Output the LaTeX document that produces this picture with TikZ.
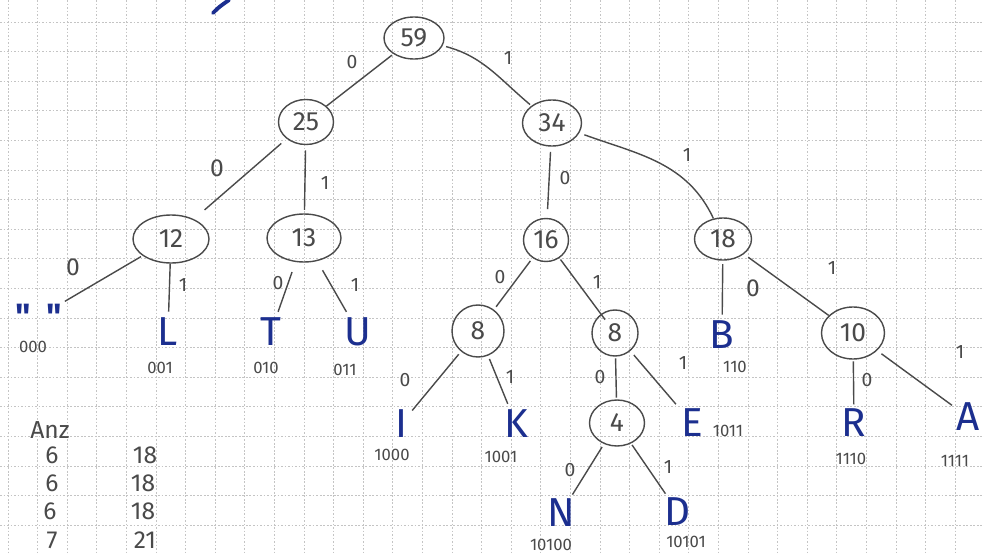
\documentclass[tikz,border=0pt]{standalone}
\usepackage{fontspec}
\setmainfont{Fira Sans}
\newfontfamily\qfont{Fira Sans}[Ligatures=TeXOff]
\usetikzlibrary{shapes.geometric}
\definecolor{pencil}{HTML}{4A4A4A}
\definecolor{ink}{HTML}{1C2F8F}
\definecolor{gridc}{HTML}{C4C4C4}
\tikzset{
  gridl/.style={gridc, line width=0.5pt, dash pattern=on 1pt off 1pt},
  nd/.style={ellipse, draw=pencil, line width=0.8pt, inner sep=0pt, text=pencil, font=\fontsize{15}{15}\selectfont},
  sz/.style 2 args={minimum width=#1*0.02cm, minimum height=#2*0.02cm},
  leaf/.style={text=ink, inner sep=1.5pt, font=\fontsize{23}{23}\selectfont},
  code/.style={text=pencil, inner sep=0pt, font=\fontsize{9.5}{9.5}\selectfont},
  bit/.style={text=pencil, inner sep=0pt, font=\fontsize{11}{11}\selectfont},
  edge/.style={draw=pencil, line width=0.8pt},
  tab/.style={text=pencil, inner sep=0pt, font=\fontsize{14}{14}\selectfont},
}
\begin{document}
\begin{tikzpicture}[x=0.02cm, y=-0.02cm]
\useasboundingbox (0,0) rectangle (984,554);
\fill[white] (0,0) rectangle (984,554);
% grid paper
\foreach \i in {0,...,33} \draw[gridl] ({8+29.6*\i},0) -- ({8+29.6*\i},554);
\foreach \j in {0,...,18} \draw[gridl] (0,{22+29.6*\j}) -- (984,{22+29.6*\j});
% blue fragment at top
\draw[ink, line width=2.2pt, line cap=round] (213,13) .. controls (219,7) .. (229,0);

% inner nodes
\node[nd, sz={60}{42}] (n59) at (414,38) {59};
\node[nd, sz={55}{45}] (n25) at (306,122) {25};
\node[nd, sz={59}{46}] (n34) at (552,123) {34};
\node[nd, sz={76}{48}] (n12) at (171,239) {12};
\node[nd, sz={74}{48}] (n13) at (304,238) {13};
\node[nd, sz={45}{43}] (n16) at (546,240) {16};
\node[nd, sz={57}{42}] (n18) at (723,239) {18};
\node[nd, sz={52}{52}] (n8a) at (478,331) {8};
\node[nd, sz={46}{46}] (n8b) at (615,333) {8};
\node[nd, sz={63}{52}] (n10) at (853,333) {10};
\node[nd, sz={55}{46}] (n4) at (617,423) {4};

% leaves
\node[leaf, anchor=north, inner sep=0pt, font=\qfont\fontsize{20}{20}\selectfont\bfseries] (lsp) at (39,304) {"\hspace{9pt}"};
\node[leaf] (lL) at (168,332) {L};
\node[leaf] (lT) at (271,332) {T};
\node[leaf] (lU) at (358,332) {U};
\node[leaf] (lI) at (401,424) {I};
\node[leaf] (lK) at (516,424) {K};
\node[leaf] (lE) at (692,423) {E};
\node[leaf] (lB) at (722,335) {B};
\node[leaf] (lR) at (854,423) {R};
\node[leaf] (lA) at (968,417) {A};
\node[leaf] (lN) at (561,513) {N};
\node[leaf] (lD) at (678,512) {D};

% codes
\node[code] (c1) at (33,347) {000};
\node[code] (c2) at (160,368) {001};
\node[code] (c3) at (266,368) {010};
\node[code] (c4) at (345,370) {011};
\node[code] (c5) at (392,455) {1000};
\node[code] (c6) at (501,457) {1001};
\node[code] (c7) at (728,431) {1011};
\node[code] (c8) at (735,367) {110};
\node[code] (c9) at (851,459) {1110};
\node[code] (c10) at (955,461) {1111};
\node[code] (c11) at (551,545) {10100};
\node[code] (c12) at (686,542) {10101};

% edges
\draw[edge, shorten <=1pt] (n59) -- (n25);
\draw[edge, shorten <=2pt, shorten >=1pt] (n59) to[out=-15, in=140] (n34);
\draw[edge, shorten <=4pt, shorten >=8pt] (n25) -- (n12);
\draw[edge, shorten <=3pt, shorten >=2pt] (n25) -- (n13);
\draw[edge, shorten <=1pt, shorten >=3pt] (n12) -- (lsp);
\draw[edge, shorten >=2pt] (n12) -- (lL);
\draw[edge, shorten <=6pt, shorten >=2pt] (n13) -- (lT);
\draw[edge, shorten <=6pt, shorten >=2pt] (n13) -- (lU);
\draw[edge, shorten <=3pt, shorten >=5pt] (n34) -- (n16);
\draw[edge, shorten <=3pt] (n34) to[out=-20, in=115] (n18);
\draw[edge, shorten <=2pt, shorten >=2pt] (n16) -- (n8a);
\draw[edge, shorten <=1pt, shorten >=-4pt] (n16) -- (n8b);
\draw[edge, shorten <=2pt, shorten >=2pt] (n18) -- (lB);
\draw[edge, shorten <=3pt, shorten >=0pt] (n18) -- (n10);
\draw[edge, shorten <=2pt, shorten >=2pt] (n8a) -- (lI);
\draw[edge, shorten <=2pt, shorten >=2pt] (n8a) -- (lK);
\draw[edge, shorten <=1pt, shorten >=1pt] (n8b) -- (n4);
\draw[edge, shorten <=3pt, shorten >=2pt] (n8b) -- (lE);
\draw[edge, shorten <=1pt, shorten >=1pt] (n10) -- (lR);
\draw[edge, shorten <=3pt, shorten >=1pt] (n10) -- (lA);
\draw[edge, shorten <=2pt, shorten >=1pt] (n4) -- (lN);
\draw[edge, shorten <=1pt, shorten >=1pt] (n4) -- (lD);

% edge labels
\node[bit] (b1) at (352,62) {0};
\node[bit] (b2) at (508,58) {1};
\node[bit, font=\fontsize{14}{14}\selectfont] (b3) at (217,168) {0};
\node[bit] (b4) at (325,183) {1};
\node[bit, font=\fontsize{14}{14}\selectfont] (b5) at (73,267) {0};
\node[bit] (b6) at (183,285) {1};
\node[bit] (b7) at (278,283) {0};
\node[bit] (b8) at (355,285) {1};
\node[bit] (b9) at (565,178) {0};
\node[bit] (b10) at (687,155) {1};
\node[bit] (b11) at (500,277) {0};
\node[bit] (b12) at (597,282) {1};
\node[bit, font=\fontsize{14}{14}\selectfont] (b13) at (753,288) {0};
\node[bit] (b14) at (832,268) {1};
\node[bit] (b15) at (405,380) {0};
\node[bit] (b16) at (510,377) {1};
\node[bit] (b17) at (600,377) {0};
\node[bit] (b18) at (683,363) {1};
\node[bit] (b19) at (867,380) {0};
\node[bit] (b20) at (960,352) {1};
\node[bit] (b21) at (570,470) {0};
\node[bit] (b22) at (668,467) {1};

% table
\node[tab] (t0) at (50,430) {Anz};
\node[tab] (t11) at (52,455) {6};
\node[tab] (t12) at (145,455) {18};
\node[tab] (t21) at (52,483) {6};
\node[tab] (t22) at (143,483) {18};
\node[tab] (t31) at (50,511) {6};
\node[tab] (t32) at (143,511) {18};
\node[tab] (t41) at (52,540) {7};
\node[tab] (t42) at (145,540) {21};
\end{tikzpicture}
\end{document}
